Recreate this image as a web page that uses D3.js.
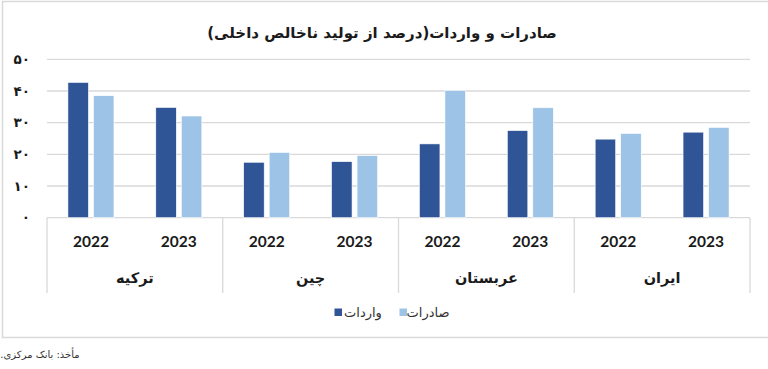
<!DOCTYPE html>
<html>
<head>
<meta charset="utf-8">
<script src="https://cdn.jsdelivr.net/npm/d3@7"></script>
<style>
  body { margin: 0; background: #fff; }
  svg { display: block; }
</style>
</head>
<body>
<div id="main"></div>
<script>
// data (display order, left to right)
const countries = ["ترکیه", "چین", "عربستان", "ایران"];
const years = ["2022", "2023"];
const series = ["واردات", "صادرات"];
const imports = [[42.7, 34.8], [17.5, 17.7], [23.3, 27.5], [24.8, 27.0]];
const exports = [[38.5, 32.1], [20.6, 19.6], [40.2, 34.7], [26.6, 28.5]];
const yTicks = [0, 10, 20, 30, 40, 50];
const colors = ["#2f5597", "#9dc3e6"];

const width = 768;
const height = 369;
const margin = { top: 59.3, right: 18, bottom: 151.3, left: 47 };
const innerBottom = height - margin.bottom;

const faDigits = n => String(n).replace(/\d/g, d => "۰۱۲۳۴۵۶۷۸۹"[d]);

const svg = d3.select("#main").append("svg")
  .attr("width", width)
  .attr("height", height);

// outer frame
svg.append("rect")
  .attr("x", 2.5).attr("y", 1.5)
  .attr("width", 775).attr("height", 336)
  .attr("fill", "none")
  .attr("stroke", "#d9d9d9")
  .attr("stroke-width", 1.5);

svg.append("text")
  .attr("x", 382).attr("y", 38)
  .attr("direction", "rtl")
  .attr("text-anchor", "middle")
  .style("font-family", "DejaVu Sans")
  .style("font-weight", "bold")
  .style("font-size", "15px")
  .attr("fill", "#1a1a1a")
  .text("صادرات و واردات(درصد از تولید ناخالص داخلی)");

const x0 = d3.scaleBand()
  .domain(countries)
  .range([margin.left, width - margin.right]);

const x1 = d3.scaleBand()
  .domain(years)
  .range([0, x0.bandwidth()]);

const x2 = d3.scaleBand()
  .domain(series)
  .range([0, x1.bandwidth()])
  .paddingInner(0.196)
  .paddingOuter(0.82);

const y = d3.scaleLinear()
  .domain([0, 50])
  .range([innerBottom, margin.top]);

// gridlines
svg.append("g")
  .selectAll("line")
  .data(yTicks)
  .enter()
  .append("line")
  .attr("x1", margin.left)
  .attr("x2", width - margin.right)
  .attr("y1", d => y(d))
  .attr("y2", d => y(d))
  .attr("stroke", "#d9d9d9")
  .attr("stroke-width", 1.3);

// y tick labels
svg.append("g")
  .selectAll("text")
  .data(yTicks)
  .enter()
  .append("text")
  .attr("x", 30)
  .attr("y", d => y(d))
  .attr("dy", "0.35em")
  .attr("text-anchor", "end")
  .style("font-family", "DejaVu Sans")
  .style("font-weight", "bold")
  .style("font-size", "13.5px")
  .attr("fill", "#1a1a1a")
  .text(d => faDigits(d));

// bars
const rows = [];
countries.forEach((c, i) => {
  years.forEach((yr, j) => {
    rows.push({ c, yr, s: series[0], v: imports[i][j], k: 0 });
    rows.push({ c, yr, s: series[1], v: exports[i][j], k: 1 });
  });
});

svg.append("g")
  .selectAll("rect")
  .data(rows)
  .enter()
  .append("rect")
  .attr("x", d => x0(d.c) + x1(d.yr) + x2(d.s))
  .attr("y", d => y(d.v))
  .attr("width", x2.bandwidth())
  .attr("height", d => y(0) - y(d.v))
  .attr("fill", d => colors[d.k])
  .attr("stroke", "#fff")
  .attr("stroke-width", 0.6);

// category table separators
const seps = countries.map(c => x0(c)).concat([width - margin.right]);
svg.append("g")
  .selectAll("line")
  .data(seps)
  .enter()
  .append("line")
  .attr("x1", d => d).attr("x2", d => d)
  .attr("y1", innerBottom)
  .attr("y2", 293)
  .attr("stroke", "#d9d9d9")
  .attr("stroke-width", 1.3);

// year labels
const yearRows = [];
countries.forEach(c => years.forEach(yr => yearRows.push({ c, yr })));
svg.append("g")
  .selectAll("text")
  .data(yearRows)
  .enter()
  .append("text")
  .attr("x", d => x0(d.c) + x1(d.yr) + x1.bandwidth() / 2)
  .attr("y", 247)
  .attr("text-anchor", "middle")
  .style("font-family", "Lato")
  .style("font-weight", "bold")
  .style("font-size", "15.5px")
  .attr("fill", "#1a1a1a")
  .text(d => d.yr);

// country labels
svg.append("g")
  .selectAll("text")
  .data(countries)
  .enter()
  .append("text")
  .attr("x", d => x0(d) + x0.bandwidth() / 2)
  .attr("y", 283)
  .attr("direction", "rtl")
  .attr("text-anchor", "middle")
  .style("font-family", "DejaVu Sans")
  .style("font-weight", "bold")
  .style("font-size", "14.5px")
  .attr("fill", "#1a1a1a")
  .text(d => d);

// legend
const legend = [
  { name: series[0], color: colors[0], sx: 334.5, tx: 363 },
  { name: series[1], color: colors[1], sx: 399.5, tx: 428 }
];
const lg = svg.append("g").selectAll("g").data(legend).enter().append("g");
lg.append("rect")
  .attr("x", d => d.sx).attr("y", 308.5)
  .attr("width", 7.5).attr("height", 7.5)
  .attr("fill", d => d.color);
lg.append("text")
  .attr("x", d => d.tx).attr("y", 317)
  .attr("direction", "rtl")
  .attr("text-anchor", "middle")
  .style("font-family", "DejaVu Sans")
  .style("font-size", "13px")
  .attr("fill", "#333")
  .text(d => d.name);

// source note
svg.append("text")
  .attr("x", 40).attr("y", 358)
  .attr("direction", "rtl")
  .attr("text-anchor", "middle")
  .style("font-family", "DejaVu Sans")
  .style("font-size", "10px")
  .attr("fill", "#333")
  .text("مأخذ: بانک مرکزی.");
</script>
</body>
</html>
